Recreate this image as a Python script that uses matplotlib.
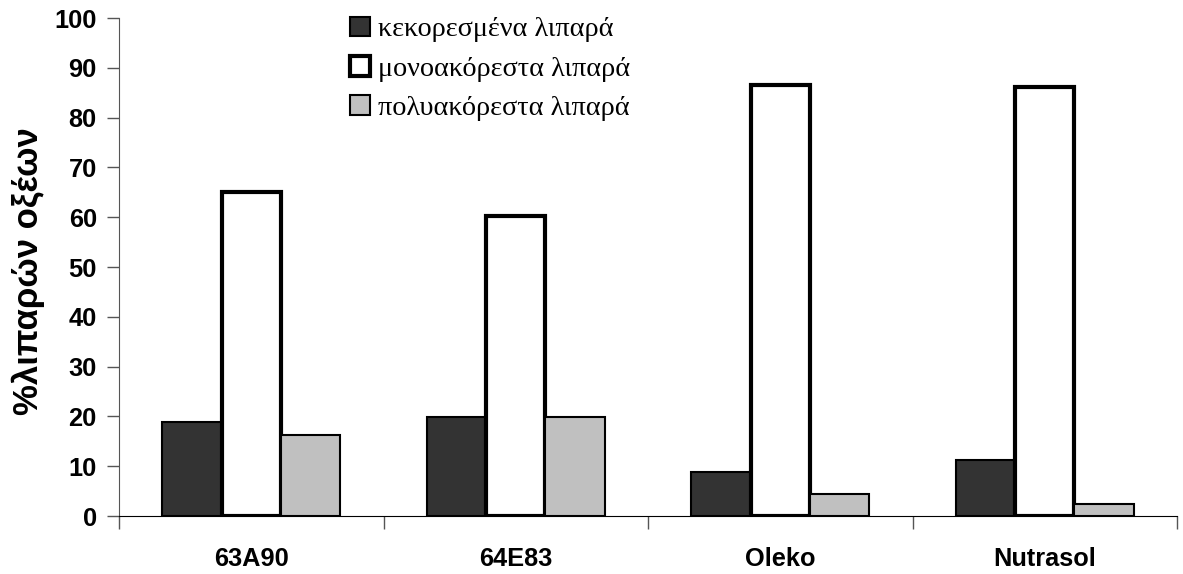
import numpy as np
import matplotlib.pyplot as plt

labels = ['63A90', '64E83', 'Oleko', 'Nutrasol']
kekoresmena = [18.8, 19.9, 8.8, 11.2]
monoakoresta = [65.0, 60.2, 86.6, 86.1]
polyakoresta = [16.3, 19.8, 4.4, 2.5]

sansb = {'family': 'Liberation Sans', 'weight': 'bold'}

fig = plt.figure(figsize=(11.83, 5.74), dpi=100)
ax = fig.add_axes([0.1006, 0.101, 0.8944, 0.8676])

x = np.arange(len(labels))
w = 0.224
ax.bar(x - w, kekoresmena, w, color='#333333', edgecolor='black', linewidth=1.5,
       label='κεκορεσμένα λιπαρά')
ax.bar(x, monoakoresta, w, color='white', edgecolor='black', linewidth=3,
       label='μονοακόρεστα λιπαρά')
ax.bar(x + w, polyakoresta, w, color='#c0c0c0', edgecolor='black', linewidth=1.5,
       label='πολυακόρεστα λιπαρά')

ax.set_xlim(-0.5, 3.5)
ax.set_ylim(0, 100)
ax.set_yticks(range(0, 101, 10))
ax.set_yticklabels([str(v) for v in range(0, 101, 10)], fontdict=sansb, fontsize=18.3)

# tick marks between groups, labels at group centres
ax.set_xticks(np.arange(-0.5, 4, 1))
ax.set_xticklabels([])
ax.set_xticks(x, minor=True)
ax.set_xticklabels(labels, minor=True, fontdict=sansb, fontsize=18.3)
ax.tick_params(axis='x', which='major', length=9, width=1, color='#555555')
ax.tick_params(axis='x', which='minor', length=0, pad=22)
ax.tick_params(axis='y', length=9, width=1, color='#555555', pad=7)

for s in ['top', 'right']:
    ax.spines[s].set_visible(False)
ax.spines['left'].set_color('#555555')
ax.spines['bottom'].set_color('black')

ax.set_ylabel('%λιπαρών οξέων', fontdict=sansb, fontsize=25, va='center')
ax.yaxis.set_label_coords(-0.086, 0.492)

leg = fig.legend(loc='upper left', bbox_to_anchor=(0.296, 0.971), frameon=False,
                 prop={'family': 'Liberation Serif', 'size': 20.3},
                 handlelength=0.7, handleheight=0.7, handletextpad=0.28,
                 labelspacing=0.48, borderpad=0, borderaxespad=0)

fig.savefig('out.png', dpi=100)
